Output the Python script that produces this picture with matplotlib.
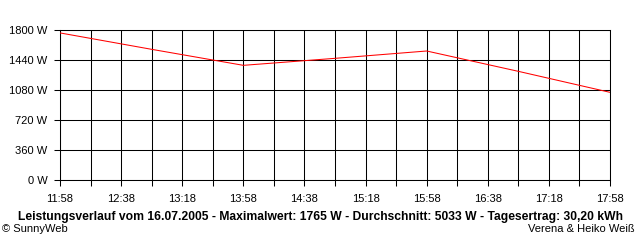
import matplotlib
matplotlib.use('Agg')
import matplotlib.pyplot as plt

# values (hourly)
times = ['11:58', '12:58', '13:58', '14:58', '15:58', '16:58', '17:58']
watts = [1765, 1568, 1376, 1460, 1548, 1304, 1052]

tick_labels = ['11:58', '12:38', '13:18', '13:58', '14:38',
               '15:18', '15:58', '16:38', '17:18', '17:58']
y_ticks = [0, 360, 720, 1080, 1440, 1800]

title = ('Leistungsverlauf vom 16.07.2005 - Maximalwert: 1765 W - '
         'Durchschnitt: 5033 W - Tagesertrag: 30,20 kWh')

plt.rcParams['font.family'] = ['Liberation Sans', 'DejaVu Sans']


def minutes(t):
    h, m = t.split(':')
    return int(h) * 60 + int(m) - (11 * 60 + 58)


x = [minutes(t) for t in times]

fig = plt.figure(figsize=(6.4, 2.4), dpi=100)
ax = fig.add_axes([60 / 640, 60 / 240, 550 / 640, 150 / 240])

# grid every 20 minutes / 360 W
for m in range(0, 361, 20):
    ax.axvline(m, color='black', lw=0.75, zorder=1)
for v in y_ticks:
    ax.axhline(v, color='black', lw=0.75, zorder=1)

ax.plot(x, watts, color='red', lw=0.75, zorder=3)

ax.set_xlim(0, 360)
ax.set_ylim(0, 1800)
ax.set_xticks(range(0, 361, 40))
ax.set_xticklabels(tick_labels)
ax.set_xticks(range(20, 361, 40), minor=True)
ax.set_yticks(y_ticks)
ax.set_yticklabels([f'{v} W' for v in y_ticks])
ax.tick_params(axis='both', which='both', direction='out', length=4,
               width=0.75, labelsize=8, color='black')
ax.tick_params(axis='x', pad=6)
ax.tick_params(axis='y', pad=5)
for s in ax.spines.values():
    s.set_linewidth(0.75)

fig.text(0.5, 1 - 217 / 240, title, ha='center', va='center',
         fontsize=8.75, fontweight='bold')
fig.text(2 / 640, 1 - 229 / 240, '\u00a9 SunnyWeb', ha='left', va='center',
         fontsize=8)
fig.text(635 / 640, 1 - 229 / 240, 'Verena & Heiko Weiß', ha='right',
         va='center', fontsize=8)

fig.savefig('out.png', dpi=100)
